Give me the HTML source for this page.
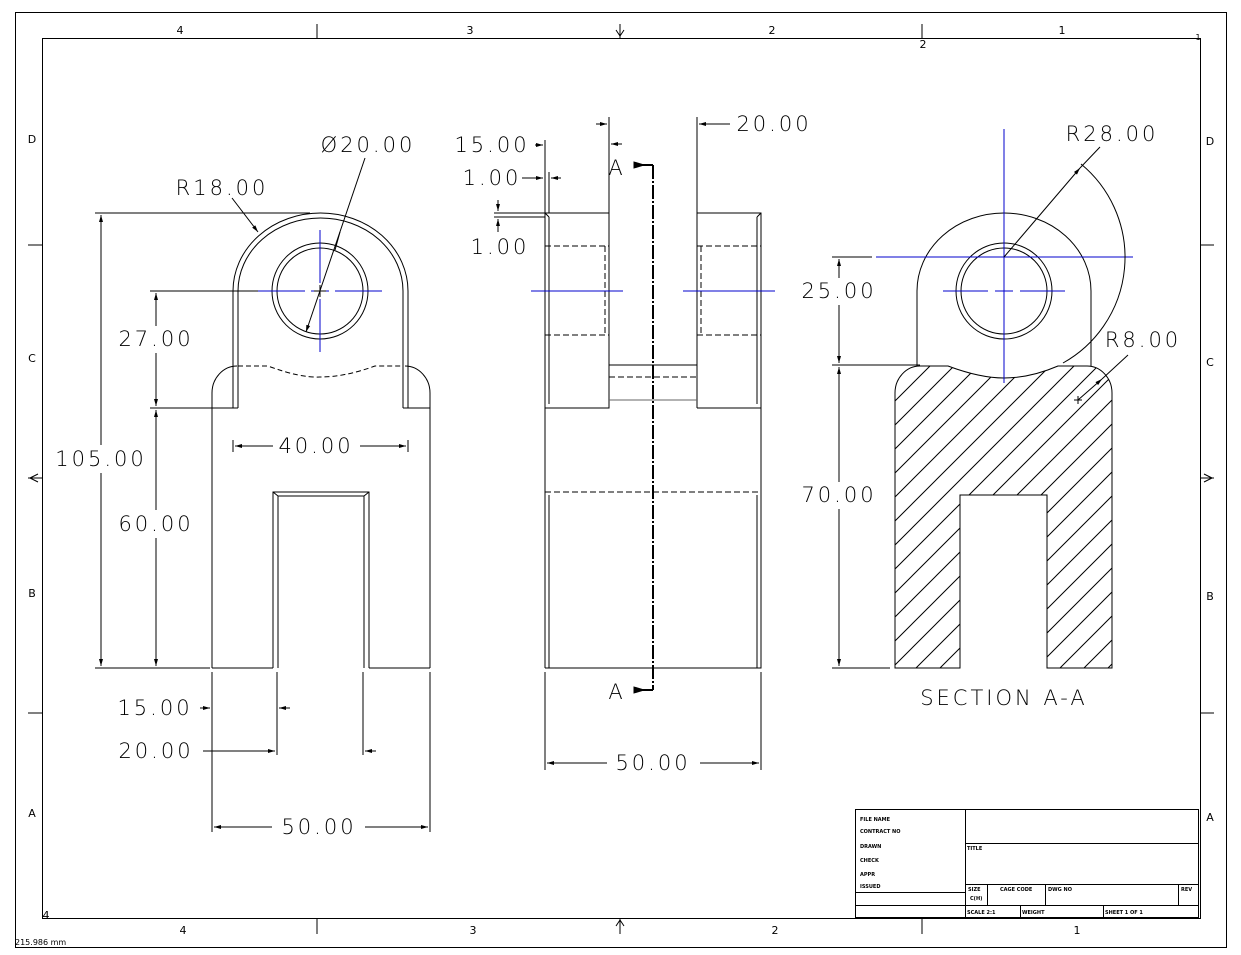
<!DOCTYPE html>
<html><head><meta charset="utf-8"><style>
html,body{margin:0;padding:0;background:#fff;}
svg{display:block;}
text{font-family:"DejaVu Sans","Liberation Sans",sans-serif;}
.d{font-size:21px;letter-spacing:3px;font-weight:200;fill:#000;text-anchor:middle;dominant-baseline:middle;}
.z{font-size:11px;fill:#000;text-anchor:middle;}
.t{font-size:5px;fill:#000;font-weight:bold;}
</style></head><body>
<svg width="1241" height="955" viewBox="0 0 1241 955" xmlns="http://www.w3.org/2000/svg" fill="none" stroke="#000" stroke-width="1">
<defs>
<pattern id="h" width="24" height="24" patternUnits="userSpaceOnUse">
<path d="M-6,6 L6,-6 M0,24 L24,0 M18,30 L30,18" stroke="#000" stroke-width="1"/>
</pattern>
<marker id="a" markerWidth="8" markerHeight="6" refX="7" refY="3" orient="auto" markerUnits="userSpaceOnUse"><path d="M0,1 L7,3 L0,5z" fill="#000" stroke="none"/></marker>
</defs>
<rect x="15.5" y="12.5" width="1211" height="935"/>
<rect x="42.5" y="38.5" width="1158" height="880"/>
<path d="M317,24V38 M620,24V38 M922,24V38 M317,918V934 M620,918V934 M922,918V934 M28,245H42 M28,478H42 M28,713H42 M1200,245H1214 M1200,478H1214 M1200,713H1214"/>
<path d="M616,30 L620,36 L624,30 M30,478 L38,474 M30,478 L38,482 M1212,478 L1204,474 M1212,478 L1204,482 M616,926 L620,920 L624,926"/>
<g stroke="none">
<text class="z" x="180" y="34">4</text><text class="z" x="470" y="34">3</text><text class="z" x="772" y="34">2</text><text class="z" x="1062" y="34">1</text>
<text class="z" x="183" y="934">4</text><text class="z" x="473" y="934">3</text><text class="z" x="775" y="934">2</text><text class="z" x="1077" y="934">1</text>
<text class="z" x="923" y="48">2</text><text class="z" x="1198" y="40" style="font-size:8px">1</text><text class="z" x="46" y="919">4</text>
<text class="z" x="32" y="143">D</text><text class="z" x="32" y="362">C</text><text class="z" x="32" y="597">B</text><text class="z" x="32" y="817">A</text>
<text class="z" x="1210" y="145">D</text><text class="z" x="1210" y="366">C</text><text class="z" x="1210" y="600">B</text><text class="z" x="1210" y="821">A</text>
<text x="15" y="945" style="font-size:8px;fill:#000">215.986 mm</text>
</g>

<!-- LEFT VIEW -->
<path d="M212,668 V393 A25,27 0 0 1 237,366 M430,668 V393 A25,27 0 0 0 405,366"/>
<path d="M212,668 H273 M369,668 H430"/>
<path d="M273,668 V492 H369 V668 M278,668 V496 H364 V668 M273,492 L278,496 M369,492 L364,496"/>
<path d="M233,408 V291 A87.5,78 0 0 1 408,291 V408 M238,408 V291 A82.5,73 0 0 1 403,291 V408 M212,408 H238 M403,408 H430"/>
<path d="M238,366 H268 Q300,378 320,377 Q345,377 375,366 H403" stroke-dasharray="5,3"/>
<circle cx="320" cy="291" r="48"/><circle cx="320" cy="291" r="43"/>
<path d="M258,291 H305 M311,291 H329 M335,291 H382 M320,230 V283 M320,288 V294 M320,299 V352" stroke="#0000cc"/>
<path d="M314,291 H326 M320,285 V297"/>
<path d="M95,213 H310 M95,668 H210 M150,291 H258 M150,408 H212"/>
<path d="M101,445 V215" marker-end="url(#a)"/><path d="M101,473 V666" marker-end="url(#a)"/>
<path d="M156,326 V293" marker-end="url(#a)"/><path d="M156,353 V406" marker-end="url(#a)"/>
<path d="M156,510 V410" marker-end="url(#a)"/><path d="M156,538 V666" marker-end="url(#a)"/>
<path d="M233,440 V452 M408,440 V452"/>
<path d="M273,446 H235" marker-end="url(#a)"/><path d="M360,446 H406" marker-end="url(#a)"/>
<path d="M212,672 V832 M430,672 V832 M277,672 V755 M363,672 V755"/>
<path d="M272,827 H214" marker-end="url(#a)"/><path d="M365,827 H428" marker-end="url(#a)"/>
<path d="M200,708 H210" marker-end="url(#a)"/><path d="M290,708 H279" marker-end="url(#a)"/>
<path d="M203,751 H275" marker-end="url(#a)"/><path d="M376,751 H365" marker-end="url(#a)"/>
<path d="M365,158 L306,332" marker-end="url(#a)"/><path d="M340,232 L335,250"/>
<path d="M232,198 L258,232" marker-end="url(#a)"/>
<g stroke="none">
<rect x="52" y="447" width="98" height="24" fill="#fff"/>
<text class="d" x="101" y="460">105.00</text>
<text class="d" x="156" y="340">27.00</text>
<text class="d" x="156" y="525">60.00</text>
<text class="d" x="316" y="447">40.00</text>
<text class="d" x="319" y="828">50.00</text>
<text class="d" x="155" y="709">15.00</text>
<text class="d" x="156" y="752">20.00</text>
<text class="d" x="368" y="146">Ø20.00</text>
<text class="d" x="222" y="189">R18.00</text>
</g>

<!-- MIDDLE VIEW -->
<path d="M545,668 V213 H609 V408 H545 M549,217 V404 M545,213 L549,217 M697,408 V213 H761 V668 H545 M757,217 V404 M761,213 L757,217 M697,408 H761"/>
<path d="M549,495 V668 M757,495 V668"/>
<path d="M545,246 H609 M545,335 H609 M605,246 V335 M697,246 H761 M697,335 H761 M701,246 V335 M545,492 H761" stroke-dasharray="6,3"/>
<path d="M609,365 H697"/>
<path d="M609,400 H697" stroke="#666"/>
<path d="M609,377 H697" stroke-dasharray="6,3"/>
<path d="M531,291 H623 M683,291 H775" stroke="#0000cc"/>
<path d="M653,165 V690" stroke-width="2" stroke-dasharray="14,2,2,2"/>
<path d="M653,165 H638 M653,690 H638" stroke-width="2"/>
<path d="M644,165 L634,162 L634,168z M644,690 L634,687 L634,693z" fill="#000"/>
<path d="M609,117 V213 M697,117 V213 M545,140 V213 M549,172 V213 M494,213 H545 M494,217 H545"/>
<path d="M596,124 H607" marker-end="url(#a)"/><path d="M622,144 H611" marker-end="url(#a)"/>
<path d="M535,145 H543" marker-end="url(#a)"/>
<path d="M522,178 H543" marker-end="url(#a)"/><path d="M561,178 H551" marker-end="url(#a)"/>
<path d="M498,200 V211" marker-end="url(#a)"/><path d="M498,232 V219" marker-end="url(#a)"/>
<path d="M730,124 H699" marker-end="url(#a)"/>
<path d="M545,672 V770 M761,672 V770"/>
<path d="M607,763 H547" marker-end="url(#a)"/><path d="M700,763 H759" marker-end="url(#a)"/>
<g stroke="none">
<text class="d" x="492" y="146">15.00</text>
<text class="d" x="492" y="179">1.00</text>
<text class="d" x="500" y="248">1.00</text>
<text class="d" x="774" y="125">20.00</text>
<text class="d" x="617" y="169">A</text>
<text class="d" x="617" y="693">A</text>
<text class="d" x="653" y="764">50.00</text>
</g>

<!-- RIGHT VIEW -->
<path d="M895,668 V393 A25,27 0 0 1 920,366 H948 Q980,378 1004,378 Q1030,378 1058,366 H1087 A25,27 0 0 1 1112,393 V668 H1047 V495 H960 V668 Z" fill="url(#h)"/>
<path d="M917,366 V291 A87,78 0 0 1 1091,291 V366"/>
<circle cx="1004" cy="291" r="48"/><circle cx="1004" cy="291" r="43"/>
<path d="M1004,129 V383 M876,257 H1133 M943,291 H988 M995,291 H1013 M1020,291 H1065" stroke="#0000cc"/>
<path d="M1081,164 A121,121 0 0 1 1063,363"/>
<path d="M1004,257 L1080,168" marker-end="url(#a)"/><path d="M1080,168 L1100,147"/>
<path d="M1078,400 L1102,379" marker-end="url(#a)"/><path d="M1102,379 L1128,355"/>
<path d="M1074,400 H1082 M1078,396 V404"/>
<path d="M832,257 H872 M832,365 H920 M832,668 H890"/>
<path d="M839,278 V259" marker-end="url(#a)"/><path d="M839,305 V363" marker-end="url(#a)"/>
<path d="M839,482 V367" marker-end="url(#a)"/><path d="M839,509 V666" marker-end="url(#a)"/>
<g stroke="none">
<text class="d" x="839" y="292">25.00</text>
<text class="d" x="839" y="496">70.00</text>
<text class="d" x="1112" y="135">R28.00</text>
<text class="d" x="1143" y="341">R8.00</text>
<text class="d" x="1004" y="699">SECTION A-A</text>
</g>

<!-- TITLE BLOCK -->
<rect x="855.5" y="809.5" width="343" height="108"/>
<path d="M965.5,810 V918 M965,843.5 H1199 M965,884.5 H1199 M855,892.5 H965 M855,905.5 H1199 M987.5,884 V905 M1045.5,884 V905 M1178.5,884 V905 M1020.5,905 V918 M1103.5,905 V918"/>
<g stroke="none">
<text class="t" x="860" y="821">FILE NAME</text>
<text class="t" x="860" y="833">CONTRACT NO</text>
<text class="t" x="860" y="848">DRAWN</text>
<text class="t" x="860" y="862">CHECK</text>
<text class="t" x="860" y="876">APPR</text>
<text class="t" x="860" y="888">ISSUED</text>
<text class="t" x="967" y="850">TITLE</text>
<text class="t" x="968" y="891">SIZE</text>
<text class="t" x="970" y="900">C(H)</text>
<text class="t" x="1000" y="891">CAGE CODE</text>
<text class="t" x="1048" y="891">DWG NO</text>
<text class="t" x="1181" y="891">REV</text>
<text class="t" x="967" y="914">SCALE  2:1</text>
<text class="t" x="1022" y="914">WEIGHT</text>
<text class="t" x="1105" y="914">SHEET  1  OF  1</text>
</g>
</svg>
</body></html>
